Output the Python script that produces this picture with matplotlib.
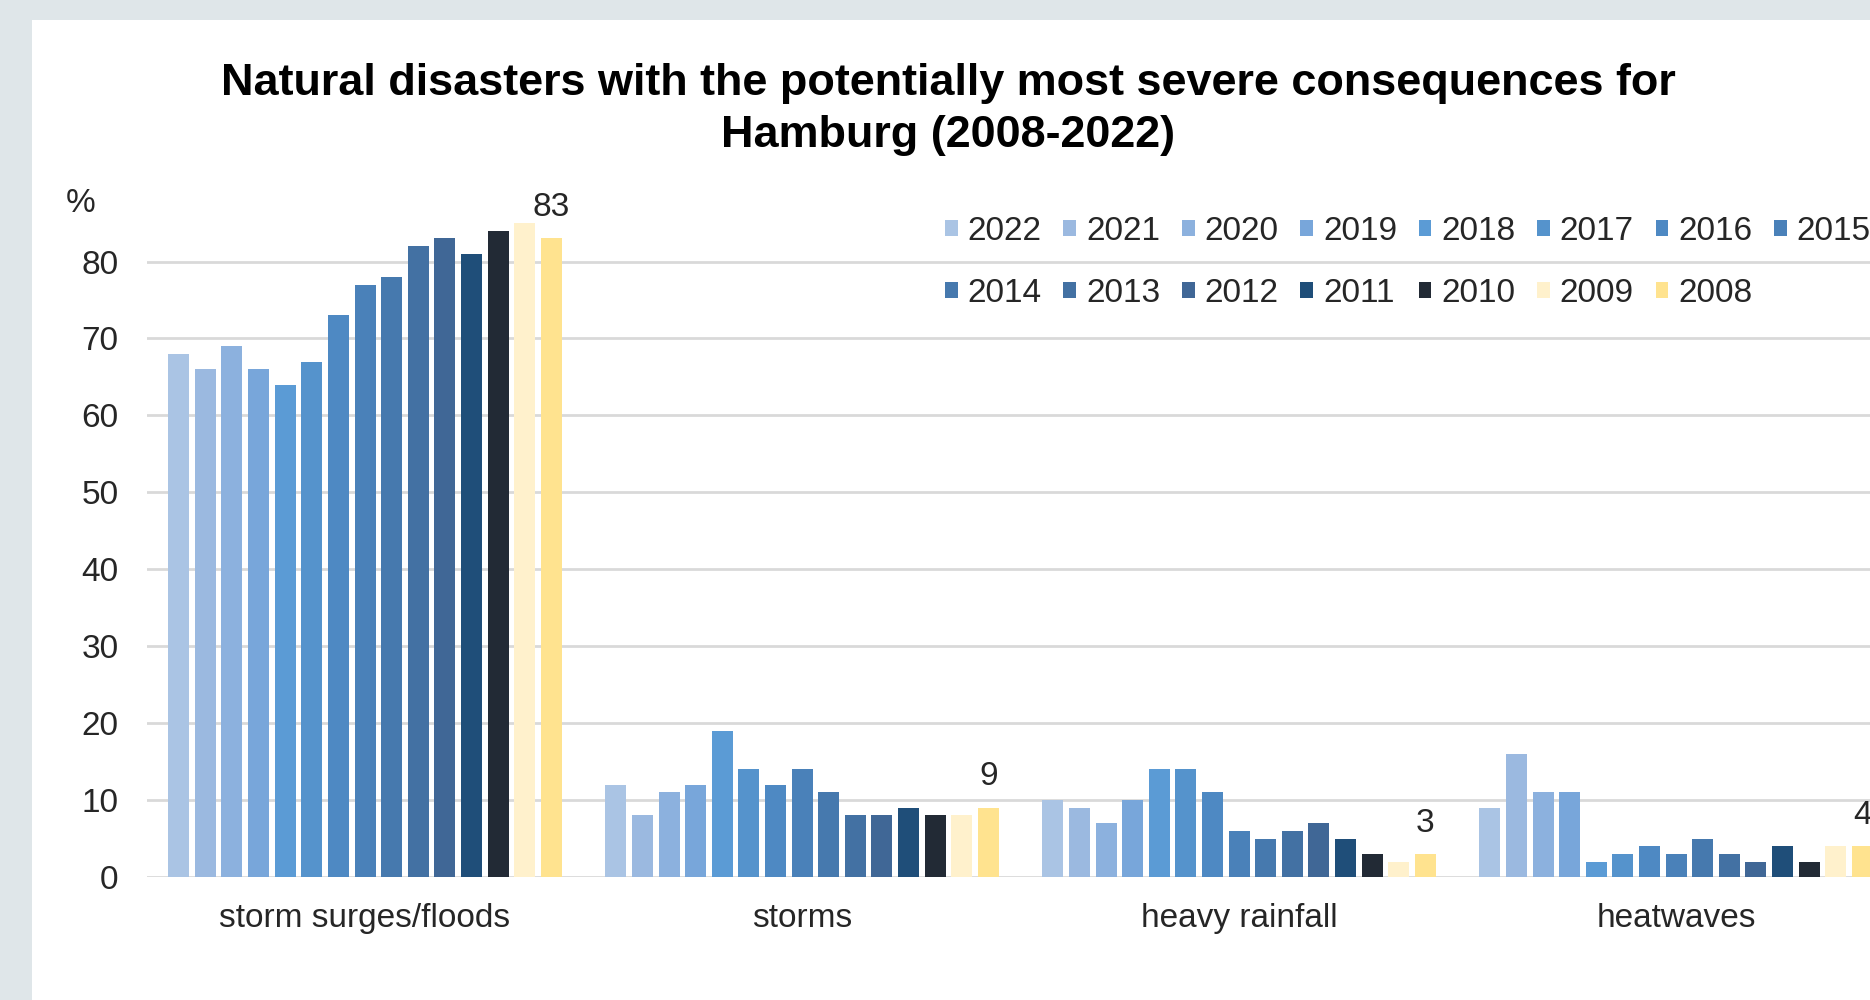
import numpy as np
import matplotlib.pyplot as plt
from matplotlib.patches import Rectangle

plt.rcParams['font.family'] = ['Liberation Sans', 'DejaVu Sans']

categories = ['storm surges/floods', 'storms', 'heavy rainfall', 'heatwaves']
years = ['2022', '2021', '2020', '2019', '2018', '2017', '2016', '2015',
         '2014', '2013', '2012', '2011', '2010', '2009', '2008']

# values per category, ordered like years (2022 -> 2008)
storm_surges = [68, 66, 69, 66, 64, 67, 73, 77, 78, 82, 83, 81, 84, 85, 83]
storms = [12, 8, 11, 12, 19, 14, 12, 14, 11, 8, 8, 9, 8, 8, 9]
heavy_rainfall = [10, 9, 7, 10, 14, 14, 11, 6, 5, 6, 7, 5, 3, 2, 3]
heatwaves = [9, 16, 11, 11, 2, 3, 4, 3, 5, 3, 2, 4, 2, 4, 4]

colors = ['#aac4e4', '#9bb9e0', '#8cb1de', '#78a6da', '#5b9bd5', '#5593cc',
          '#4e89c3', '#4a81b9', '#4679ae', '#4371a3', '#406796', '#1f4e79',
          '#222a35', '#fff1cc', '#ffe38f']

W, H = 1870, 1000
fig = plt.figure(figsize=(W / 100, H / 100), dpi=100)
fig.patch.set_facecolor('#dfe6e9')
fig.add_artist(Rectangle((32 / W, 0), 1, 1 - 20 / H, transform=fig.transFigure,
                         facecolor='white', edgecolor='none', zorder=0))

# plot area is wider than the picture: the right end is cut off like in the source
ax = fig.add_axes([146.5 / W, 1 - 877 / H, 1748 / W, 677 / H])
ax.set_facecolor('none')

x = np.arange(len(categories))
pitch = 26.6 / 437
bw = 21 / 437
for j, (yr, col) in enumerate(zip(years, colors)):
    vals = [storm_surges[j], storms[j], heavy_rainfall[j], heatwaves[j]]
    bars = ax.bar(x + (j - 7) * pitch, vals, bw, color=col, label=yr, zorder=3)
    if yr == '2008':
        ax.bar_label(bars, padding=11, fontsize=24, color='#262626', clip_on=False)

ax.set_xlim(-0.5, 3.5)
ax.set_ylim(0, 88)
ax.set_xticks(x, categories)
ax.set_yticks(range(0, 81, 10))
ax.tick_params(axis='x', length=0, pad=19, labelsize=24, labelcolor='#262626')
ax.tick_params(axis='y', length=0, pad=20, labelsize=24, labelcolor='#262626')
ax.yaxis.grid(True, color='#d9d9d9', linewidth=2)
ax.set_axisbelow(True)
for s in ax.spines.values():
    s.set_visible(False)

handles, labels = ax.get_legend_handles_labels()
order = [k for pair in zip(range(7), range(8, 15)) for k in pair] + [7]
fig.legend([handles[k] for k in order], [labels[k] for k in order], ncol=8,
           loc='upper left', bbox_to_anchor=(945 / W, 1 - 216 / H),
           frameon=False, fontsize=24, labelcolor='#262626',
           handlelength=0.38, handleheight=0.38, handletextpad=0.3,
           columnspacing=0.65, labelspacing=0.93, borderpad=0, borderaxespad=0)

fig.text(66 / W, 1 - 203 / H, '%', ha='left', va='center', fontsize=24, color='#262626')
fig.text(948 / W, 1 - 84 / H, 'Natural disasters with the potentially most severe consequences for',
         ha='center', va='center', fontsize=32.4, fontweight='bold', color='black')
fig.text(948 / W, 1 - 135 / H, 'Hamburg (2008-2022)',
         ha='center', va='center', fontsize=32.4, fontweight='bold', color='black')

fig.savefig('out.png', dpi=100, facecolor=fig.get_facecolor())
